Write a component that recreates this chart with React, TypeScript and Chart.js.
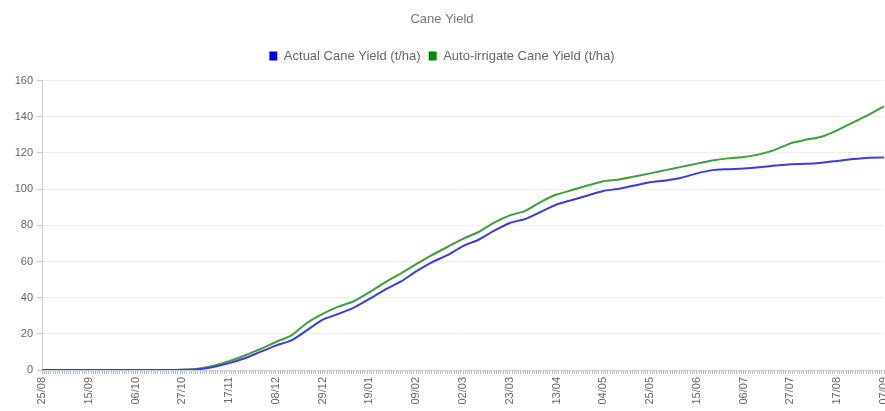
import React, { useEffect, useRef } from "react";
import { Chart, registerables } from "chart.js";

Chart.register(...registerables);

// Day offsets from 25/08 (weekly samples)
const dayOffsets = [
  0, 7, 14, 21, 28, 35, 42, 49, 56, 63, 70, 77, 84, 91, 98, 105, 112, 119, 126,
  133, 140, 147, 154, 161, 168, 175, 182, 189, 196, 203, 210, 217, 224, 231,
  238, 245, 252, 259, 266, 273, 280, 287, 294, 301, 308, 315, 322, 329, 336,
  343, 350, 357, 364, 371, 378,
];

const actualYield = [
  0, 0, 0, 0, 0, 0, 0, 0, 0, 0.1, 0.4, 1.7, 3.8, 6.5, 10, 13.5, 16.4, 22, 27.8,
  31, 34.5, 39.3, 44.5, 48.8, 54.5, 59.5, 63.5, 68.5, 72, 77, 81.3, 83.5, 87.5,
  91.5, 94, 96.5, 99, 100.2, 102, 103.8, 104.8, 106.3, 108.7, 110.5, 111, 111.4,
  112.1, 113, 113.8, 114, 114.6, 115.6, 116.6, 117.4, 117.5,
];

const autoIrrigateYield = [
  0, 0, 0, 0, 0, 0, 0, 0, 0, 0.2, 0.7, 2.3, 4.8, 8, 11.5, 15.5, 19.2, 26, 31, 35,
  38, 43, 48.5, 53.3, 58.5, 63.5, 68, 72.5, 76.3, 81.5, 85.5, 88, 93, 97, 99.5,
  102, 104.3, 105.3, 107, 108.7, 110.5, 112.3, 114.1, 115.8, 117, 117.8, 119.2,
  121.7, 125.3, 127.3, 129, 132.5, 136.8, 141, 145.8,
];

// Labels shown every 21 days
const tickLabels = [
  "25/08", "15/09", "06/10", "27/10", "17/11", "08/12", "29/12", "19/01",
  "09/02", "02/03", "23/03", "13/04", "04/05", "25/05", "15/06", "06/07",
  "27/07", "17/08", "07/09",
];
const labelEvery = 21;
const lastDay = 378;

const yTicks = [0, 20, 40, 60, 80, 100, 120, 140, 160];

const legendSpacer = {
  id: "legendSpacer",
  beforeInit(chart: any) {
    const legend = chart.legend;
    if (!legend) return;
    const origFit = legend.fit;
    legend.fit = function () {
      origFit.call(this);
      this.height += 8;
    };
  },
};

export default function App() {
  const canvasRef = useRef<HTMLCanvasElement | null>(null);

  useEffect(() => {
    document.body.style.margin = "0";
    const canvas = canvasRef.current;
    if (!canvas) return;
    const font = "'Liberation Sans', Arial, sans-serif";
    const chart = new Chart(canvas, {
      type: "line",
      plugins: [legendSpacer],
      data: {
        datasets: [
          {
            label: "Actual Cane Yield (t/ha)",
            data: dayOffsets.map((d, i) => ({ x: d, y: actualYield[i] })),
            borderColor: "rgb(60,60,225)",
            backgroundColor: "#0000ee",
            borderWidth: 2,
            pointRadius: 0,
            tension: 0.2,
            fill: false,
          },
          {
            label: "Auto-irrigate Cane Yield (t/ha)",
            data: dayOffsets.map((d, i) => ({ x: d, y: autoIrrigateYield[i] })),
            borderColor: "rgb(60,160,60)",
            backgroundColor: "#008a00",
            borderWidth: 2,
            pointRadius: 0,
            tension: 0.2,
            fill: false,
          },
        ],
      },
      options: {
        animation: false,
        responsive: true,
        maintainAspectRatio: false,
        layout: { padding: { left: 0, right: 1, top: 4, bottom: 0 } },
        plugins: {
          title: {
            display: true,
            text: "Cane Yield",
            color: "#777",
            font: { family: font, size: 13, weight: "normal" },
            padding: { top: 8, bottom: 14 },
          },
          legend: {
            display: true,
            labels: {
              color: "#666",
              boxWidth: 8,
              boxHeight: 9,
              padding: 8,
              font: { family: font, size: 13 },
              generateLabels: (c: any) => {
                const items = Chart.defaults.plugins.legend.labels.generateLabels(c);
                return items.map((it: any) => ({
                  ...it,
                  strokeStyle: it.fillStyle,
                  lineWidth: 0,
                }));
              },
            },
          },
          tooltip: { enabled: false },
        },
        scales: {
          x: {
            type: "linear",
            min: 0,
            max: lastDay,
            afterFit: (scale: any) => {
              scale.height = 41;
              scale.paddingRight = 0;
              scale.paddingLeft = 0;
            },
            grid: {
              drawOnChartArea: false,
              drawTicks: true,
              tickLength: 4,
              color: "#bbb",
            },
            border: { color: "#ccc" },
            ticks: {
              stepSize: 1,
              autoSkip: false,
              maxTicksLimit: 1000,
              minRotation: 90,
              maxRotation: 90,
              color: "#666",
              font: { family: font, size: 11 },
              padding: 3,
              callback: (v: any) => {
                const n = Number(v);
                return n % labelEvery === 0 ? tickLabels[n / labelEvery] : "";
              },
            },
          },
          y: {
            min: 0,
            max: 160,
            afterFit: (scale: any) => {
              scale.width = 42;
            },
            afterBuildTicks: (axis: any) => {
              axis.ticks = yTicks.map((v) => ({ value: v }));
            },
            grid: {
              color: "#eee",
              tickColor: "#ccc",
              tickLength: 5,
            },
            border: { color: "#ccc" },
            ticks: {
              color: "#666",
              font: { family: font, size: 11 },
              padding: 4,
            },
          },
        },
      },
    });
    return () => chart.destroy();
  }, []);

  return (
    <div style={{ width: 885, height: 411, position: "relative" }}>
      <canvas ref={canvasRef} />
    </div>
  );
}
